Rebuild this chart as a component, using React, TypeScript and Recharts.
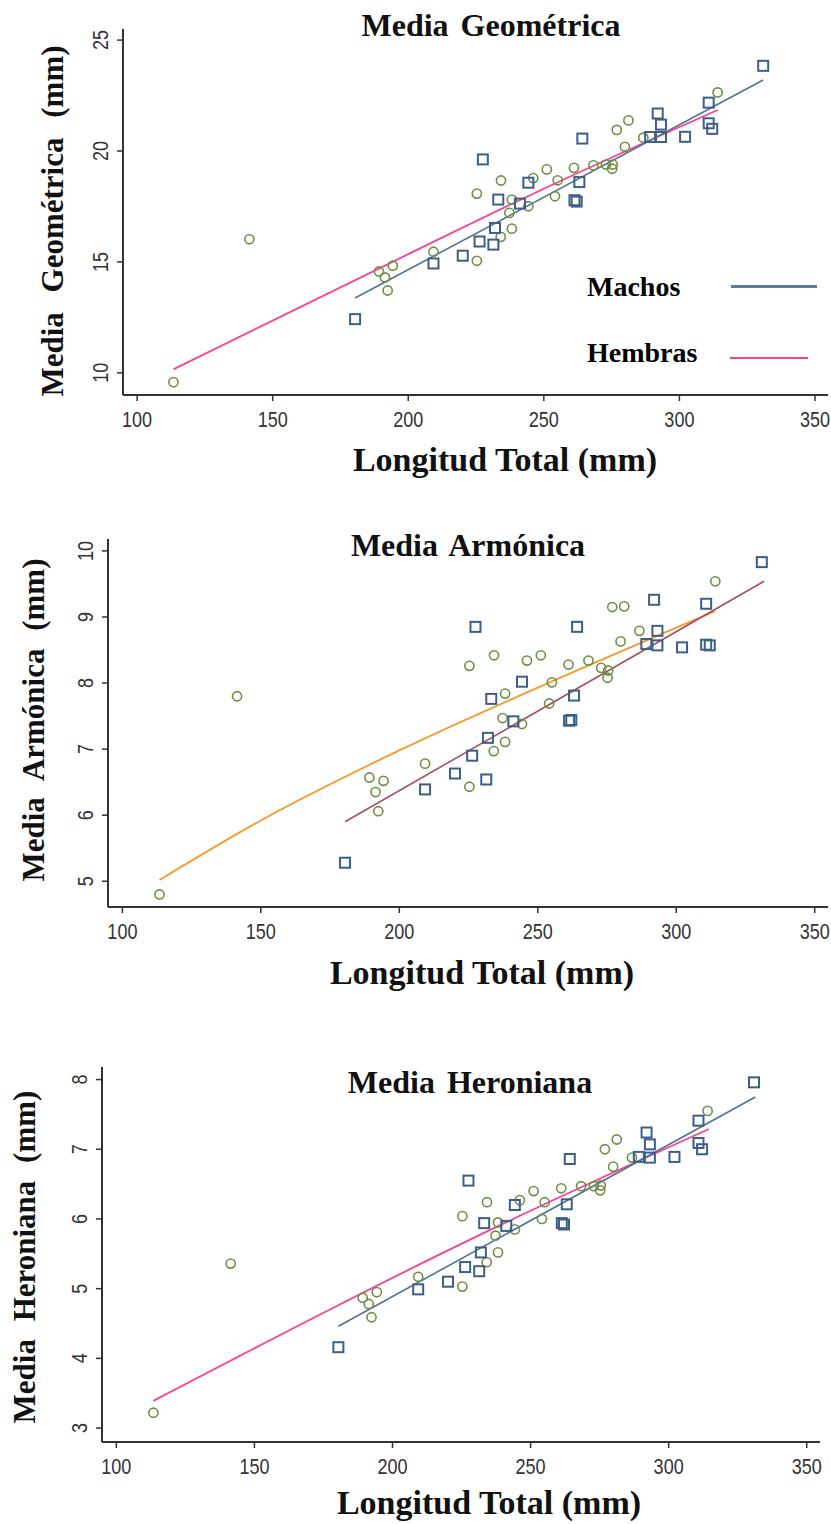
import React from 'react';
import { ComposedChart, Scatter, Line, XAxis, YAxis } from 'recharts';

// Longitud total (mm) de cada ejemplar
const longitudMachos = [180.4, 209.3, 220.1, 226.3, 227.5, 231.4, 232.0, 233.2, 241.2, 244.3, 261.3, 262.1, 263.1, 264.2, 289.2, 292.0, 293.2, 293.2, 302.1, 310.8, 310.8, 312.1, 330.9];
const longitudHembras = [113.4, 141.4, 189.2, 191.4, 192.4, 194.3, 209.3, 225.3, 225.3, 234.1, 234.2, 237.3, 238.2, 238.2, 244.3, 246.1, 251.1, 254.1, 255.1, 261.1, 268.3, 272.9, 275.2, 275.4, 276.9, 279.9, 281.2, 286.7, 314.1];

// Media geométrica (mm)
const geoMachos = [12.42, 14.93, 15.28, 15.92, 19.62, 15.78, 16.53, 17.81, 17.63, 18.57, 17.78, 17.72, 18.6, 20.56, 20.63, 21.69, 21.19, 20.63, 20.64, 22.18, 21.25, 21.0, 23.84];
const geoHembras = [9.58, 16.02, 14.57, 14.3, 13.71, 14.83, 15.46, 15.05, 18.08, 16.13, 18.67, 17.21, 17.81, 16.5, 17.51, 18.78, 19.17, 17.96, 18.68, 19.24, 19.35, 19.39, 19.2, 19.39, 20.95, 20.19, 21.38, 20.6, 22.64];

// Media armónica (mm)
const armMachos = [5.28, 6.39, 6.63, 6.9, 8.85, 6.54, 7.17, 7.76, 7.42, 8.02, 7.43, 7.44, 7.81, 8.85, 8.59, 9.26, 8.79, 8.57, 8.54, 9.2, 8.58, 8.57, 9.83];
const armHembras = [4.8, 7.8, 6.57, 6.35, 6.06, 6.52, 6.78, 6.43, 8.26, 6.97, 8.42, 7.47, 7.84, 7.11, 7.38, 8.34, 8.42, 7.69, 8.01, 8.28, 8.34, 8.23, 8.08, 8.19, 9.15, 8.63, 9.16, 8.79, 9.54];

// Media heroniana (mm)
const herMachos = [4.16, 4.99, 5.1, 5.31, 6.55, 5.25, 5.52, 5.94, 5.9, 6.2, 5.94, 5.92, 6.21, 6.86, 6.89, 7.24, 7.07, 6.88, 6.89, 7.41, 7.09, 7.0, 7.96];
const herHembras = [3.22, 5.36, 4.87, 4.78, 4.59, 4.95, 5.17, 5.03, 6.04, 5.38, 6.24, 5.76, 5.95, 5.52, 5.85, 6.27, 6.4, 6.0, 6.24, 6.44, 6.47, 6.47, 6.41, 6.48, 7.0, 6.75, 7.14, 6.88, 7.55];

// Curvas de ajuste [longitud, valor]
const ajusteGeoMachos = [[180.4, 13.37], [330.9, 23.2]];
const ajusteGeoHembras = [[113.4, 10.16], [200, 15.35], [250, 18.3], [314.1, 21.85]];
const ajusteArmMachos = [[180.4, 5.9], [331.7, 9.54]];
const ajusteArmHembras = [[113.4, 5.02], [150, 5.92], [200, 6.98], [250, 7.93], [314.1, 9.09]];
const ajusteHerMachos = [[180.4, 4.46], [331.4, 7.75]];
const ajusteHerHembras = [[113.4, 3.39], [238.4, 5.9], [314.6, 7.29]];

const xTicks = [100, 150, 200, 250, 300, 350];
const yTicksGeo = [10, 15, 20, 25];
const yTicksArm = [5, 6, 7, 8, 9, 10];
const yTicksHer = [3, 4, 5, 6, 7, 8];

const toPoints = (xs: number[], ys: number[]) => xs.map((x, i) => ({ x, y: ys[i] }));
const toLine = (pairs: number[][]) => pairs.map(([x, y]) => ({ x, y }));

const SERIF = "'Liberation Serif', 'Times New Roman', serif";
const SANS = "'Liberation Sans', Arial, sans-serif";

const C_MACHO_PT = '#3c5f88';
const C_HEMBRA_PT = '#6f8f47';
const C_AXIS = '#333333';

const Square = (props: any) => {
  const { cx, cy } = props;
  if (cx == null || cy == null) return null;
  return <rect x={cx - 5} y={cy - 5} width={10} height={10} fill="none" stroke={C_MACHO_PT} strokeWidth={2} />;
};

const Circle = (props: any) => {
  const { cx, cy } = props;
  if (cx == null || cy == null) return null;
  return <circle cx={cx} cy={cy} r={4.6} fill="none" stroke={C_HEMBRA_PT} strokeWidth={1.6} />;
};

// Narrow tick numerals
const XTick = (props: any) => {
  const { x, y, payload } = props;
  return (
    <text
      transform={`translate(${x}, ${y + 16}) scale(0.82, 1)`}
      textAnchor="middle"
      dominantBaseline="central"
      fontFamily={SANS}
      fontSize={22}
      fill={C_AXIS}
    >
      {payload.value}
    </text>
  );
};

const YTick = (props: any) => {
  const { x, y, payload } = props;
  const cx = x - 15;
  return (
    <text
      transform={`translate(${cx}, ${y}) rotate(-90) scale(0.82, 1)`}
      textAnchor="middle"
      dominantBaseline="central"
      fontFamily={SANS}
      fontSize={22}
      fill={C_AXIS}
    >
      {payload.value}
    </text>
  );
};

type PanelProps = {
  top: number;
  height: number;
  plotLeft: number;
  plotRight: number;
  plotTop: number;
  plotBottom: number;
  yDomain: number[];
  yTicks: number[];
  machos: { x: number; y: number }[];
  hembras: { x: number; y: number }[];
  lineMachos: { x: number; y: number }[];
  lineHembras: { x: number; y: number }[];
  colorMachos: string;
  colorHembras: string;
};

const X_AXIS_H = 40;

const Panel = (p: PanelProps) => {
  const margin = {
    top: p.plotTop - p.top,
    right: 831 - p.plotRight,
    left: 0,
    bottom: p.top + p.height - p.plotBottom - X_AXIS_H,
  };
  return (
    <div style={{ position: 'absolute', left: 0, top: p.top }}>
      <ComposedChart width={831} height={p.height} margin={margin}>
        <XAxis
          type="number"
          dataKey="x"
          domain={[94.8, 354.8]}
          ticks={xTicks}
          allowDataOverflow
          height={X_AXIS_H}
          axisLine={{ stroke: C_AXIS, strokeWidth: 2 }}
          tickLine={{ stroke: C_AXIS, strokeWidth: 1.5 }}
          tickSize={6}
          tick={<XTick />}
        />
        <YAxis
          type="number"
          dataKey="y"
          domain={p.yDomain}
          ticks={p.yTicks}
          allowDataOverflow
          width={p.plotLeft}
          axisLine={{ stroke: C_AXIS, strokeWidth: 2 }}
          tickLine={{ stroke: C_AXIS, strokeWidth: 1.5 }}
          tickSize={6}
          tick={<YTick />}
        />
        <Line data={p.lineHembras} dataKey="y" type="monotone" dot={false} stroke={p.colorHembras} strokeWidth={1.8} isAnimationActive={false} />
        <Line data={p.lineMachos} dataKey="y" type="monotone" dot={false} stroke={p.colorMachos} strokeWidth={1.6} isAnimationActive={false} />
        <Scatter data={p.hembras} dataKey="y" shape={<Circle />} isAnimationActive={false} />
        <Scatter data={p.machos} dataKey="y" shape={<Square />} isAnimationActive={false} />
      </ComposedChart>
    </div>
  );
};

const Txt = ({ x, y, size, children, rotate = false, spacing = 0 }: any) => (
  <div
    style={{
      position: 'absolute',
      left: x,
      top: y,
      transform: `translate(-50%, -50%)${rotate ? ' rotate(-90deg)' : ''}`,
      fontFamily: SERIF,
      fontWeight: 'bold',
      fontSize: size,
      color: '#111',
      whiteSpace: 'nowrap',
      wordSpacing: spacing,
      lineHeight: 1,
    }}
  >
    {children}
  </div>
);

export default function App() {
  return (
    <div style={{ position: 'absolute', left: 0, top: 0, width: 831, height: 1524, background: '#fff' }}>
      <Panel
        top={0}
        height={460}
        plotLeft={123}
        plotRight={828}
        plotTop={29}
        plotBottom={395}
        yDomain={[9, 25.5]}
        yTicks={yTicksGeo}
        machos={toPoints(longitudMachos, geoMachos)}
        hembras={toPoints(longitudHembras, geoHembras)}
        lineMachos={toLine(ajusteGeoMachos)}
        lineHembras={toLine(ajusteGeoHembras)}
        colorMachos="#4f7397"
        colorHembras="#ff3f8e"
      />
      <Panel
        top={500}
        height={530}
        plotLeft={108}
        plotRight={828}
        plotTop={539}
        plotBottom={907}
        yDomain={[4.61, 10.18]}
        yTicks={yTicksArm}
        machos={toPoints(longitudMachos, armMachos)}
        hembras={toPoints(longitudHembras, armHembras)}
        lineMachos={toLine(ajusteArmMachos)}
        lineHembras={toLine(ajusteArmHembras)}
        colorMachos="#a5505f"
        colorHembras="#f39c2b"
      />
      <Panel
        top={1040}
        height={484}
        plotLeft={102}
        plotRight={820}
        plotTop={1067}
        plotBottom={1442}
        yDomain={[2.8, 8.18]}
        yTicks={yTicksHer}
        machos={toPoints(longitudMachos, herMachos)}
        hembras={toPoints(longitudHembras, herHembras)}
        lineMachos={toLine(ajusteHerMachos)}
        lineHembras={toLine(ajusteHerHembras)}
        colorMachos="#4f7397"
        colorHembras="#ff3f8e"
      />

      {/* Títulos */}
      <Txt x={491} y={25} size={32} spacing={4}>Media Geométrica</Txt>
      <Txt x={468} y={545} size={32} spacing={4}>Media Armónica</Txt>
      <Txt x={470} y={1082} size={32} spacing={4}>Media Heroniana</Txt>

      {/* Ejes Y */}
      <Txt x={52} y={221} size={31} rotate spacing={12}>Media Geométrica (mm)</Txt>
      <Txt x={33} y={720} size={31} rotate spacing={10}>Media Armónica (mm)</Txt>
      <Txt x={24} y={1257} size={31} rotate spacing={10}>Media Heroniana (mm)</Txt>

      {/* Ejes X */}
      <Txt x={505} y={460} size={34}>Longitud Total (mm)</Txt>
      <Txt x={482} y={973} size={34}>Longitud Total (mm)</Txt>
      <Txt x={489} y={1503} size={34}>Longitud Total (mm)</Txt>

      {/* Leyenda */}
      <div style={{ position: 'absolute', left: 587, top: 287, transform: 'translateY(-50%)', fontFamily: SERIF, fontWeight: 'bold', fontSize: 28, lineHeight: 1 }}>Machos</div>
      <div style={{ position: 'absolute', left: 731, top: 285, width: 86, height: 3, background: '#5b7ba0' }} />
      <div style={{ position: 'absolute', left: 587, top: 353, transform: 'translateY(-50%)', fontFamily: SERIF, fontWeight: 'bold', fontSize: 28, lineHeight: 1 }}>Hembras</div>
      <div style={{ position: 'absolute', left: 730, top: 357, width: 78, height: 2, background: '#ff3f8e' }} />
    </div>
  );
}
